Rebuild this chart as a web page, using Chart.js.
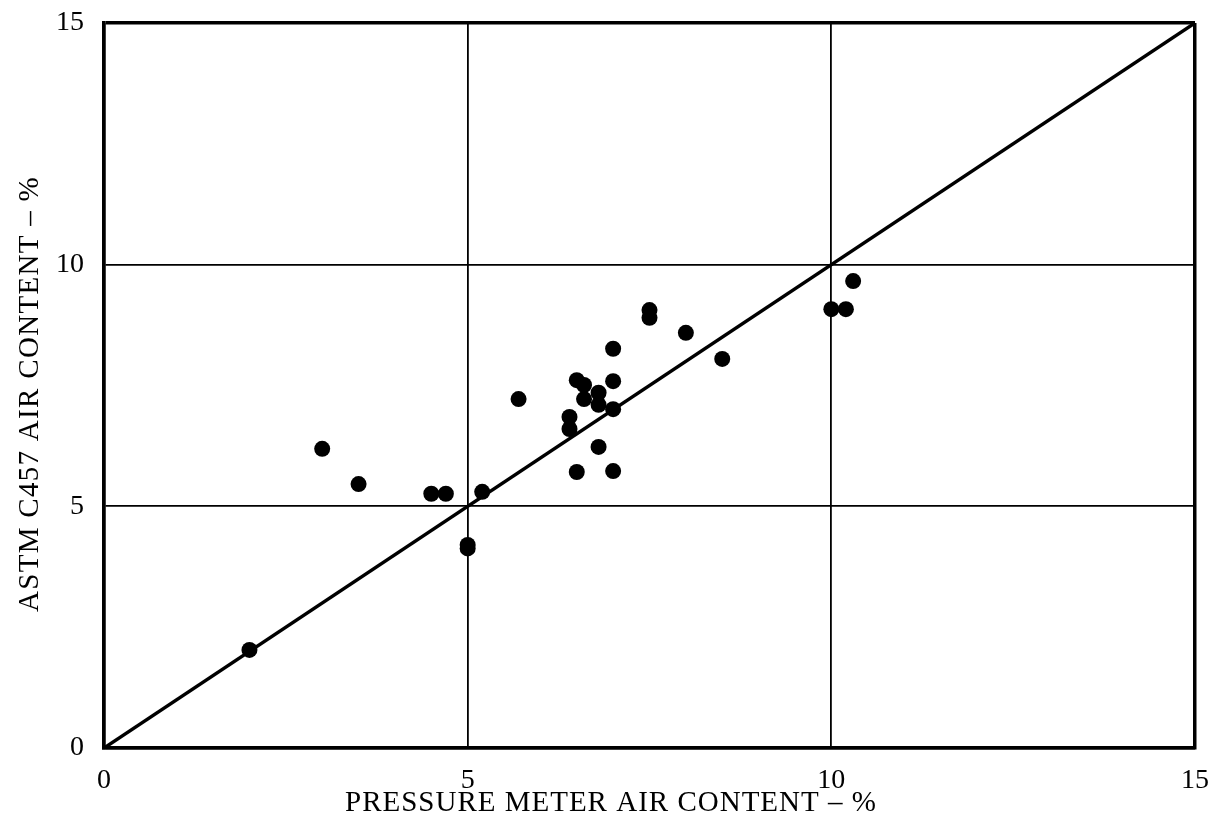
<!DOCTYPE html>
<html>
<head>
<meta charset="utf-8">
<script src="https://cdn.jsdelivr.net/npm/chart.js@4/dist/chart.umd.min.js"></script>
<style>
  html, body { margin: 0; padding: 0; background: #fff; }
  #wrap { width: 1227px; height: 827px; }
</style>
</head>
<body>
<div id="wrap"><canvas id="airChart" width="1227" height="827"></canvas></div>
<script>
// Data
const pressureMeter = [2.0, 3.0, 3.5, 4.5, 4.7, 5.2, 5.0, 5.0, 5.7, 6.4, 6.4, 6.5, 6.6, 6.6, 6.5,
  6.8, 6.8, 6.8, 7.0, 7.0, 7.0, 7.0, 7.5, 7.5, 8.0, 8.5, 10.0, 10.2, 10.3];
const astmC457 = [2.03, 6.19, 5.46, 5.26, 5.26, 5.3, 4.13, 4.2, 7.22, 6.85, 6.6, 7.61, 7.51, 7.22, 5.71,
  7.35, 7.1, 6.23, 8.26, 7.59, 7.01, 5.73, 9.06, 8.9, 8.59, 8.05, 9.08, 9.08, 9.66];
// Line of equality
const equalityX = [0, 15];
const equalityY = [0, 15];
const tickValues = [0, 5, 10, 15];

const xTitle = "PRESSURE METER AIR CONTENT \u2013 %";
const yTitle = "ASTM C457 AIR CONTENT \u2013 %";
const serif = "'Liberation Serif', 'Times New Roman', serif";

// Axis titles drawn by hand so they sit where the original has them
const titlePlugin = {
  id: "titles",
  afterDraw(chart) {
    const ctx = chart.ctx;
    ctx.save();
    ctx.fillStyle = "#000";
    ctx.font = "29px " + serif;
    ctx.letterSpacing = "1px";
    ctx.textAlign = "left";
    ctx.textBaseline = "alphabetic";
    ctx.fillText(xTitle, 345, 811);

    ctx.letterSpacing = "1.3px";
    ctx.translate(30, 394);
    ctx.rotate(-Math.PI / 2);
    ctx.textAlign = "center";
    ctx.textBaseline = "middle";
    ctx.fillText(yTitle, 0, 0);
    ctx.restore();
  },
};

const edgeWidth = (c) => (c.tick && (c.tick.value === 0 || c.tick.value === 15) ? 3.5 : 1.8);

new Chart(document.getElementById("airChart").getContext("2d"), {
  type: "scatter",
  data: {
    datasets: [
      {
        label: "Tests",
        data: pressureMeter.map((x, i) => ({ x: x, y: astmC457[i] })),
        backgroundColor: "#000",
        borderWidth: 0,
        pointRadius: 8,
        pointHoverRadius: 8,
      },
      {
        type: "line",
        label: "Equality",
        data: equalityX.map((x, i) => ({ x: x, y: equalityY[i] })),
        borderColor: "#000",
        borderWidth: 3.5,
        pointRadius: 0,
        fill: false,
        tension: 0,
      },
    ],
  },
  options: {
    responsive: false,
    animation: false,
    layout: { padding: { top: 23, right: 32, left: 0, bottom: 0 } },
    plugins: { legend: { display: false }, tooltip: { enabled: false } },
    scales: {
      x: {
        type: "linear",
        min: 0,
        max: 15,
        afterBuildTicks: (s) => { s.ticks = tickValues.map((v) => ({ value: v })); },
        afterFit: (s) => { s.height = 79; },
        grid: { color: "#000", lineWidth: edgeWidth, drawTicks: false },
        border: { display: true, color: "#000", width: 3.5 },
        ticks: { color: "#000", padding: 16, font: { family: serif, size: 28 }, maxRotation: 0 },
      },
      y: {
        type: "linear",
        min: 0,
        max: 15,
        afterBuildTicks: (s) => { s.ticks = tickValues.map((v) => ({ value: v })); },
        afterFit: (s) => { s.width = 104; },
        grid: { color: "#000", lineWidth: edgeWidth, drawTicks: false },
        border: { display: true, color: "#000", width: 3.5 },
        ticks: { color: "#000", padding: 20, font: { family: serif, size: 28, lineHeight: 0.2 } },
      },
    },
  },
  plugins: [titlePlugin],
});
</script>
</body>
</html>
